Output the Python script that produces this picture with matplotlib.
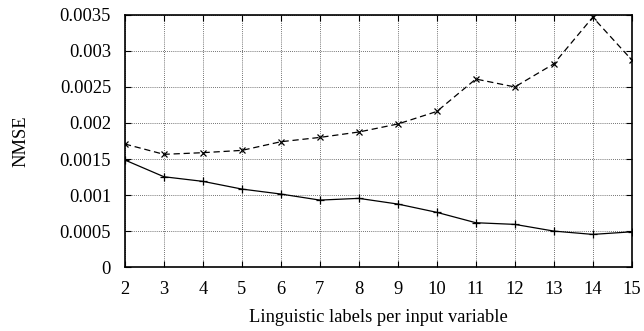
import matplotlib

matplotlib.use("Agg")

import matplotlib.pyplot as plt  # noqa: E402
from matplotlib.ticker import FuncFormatter  # noqa: E402

# values
labels_per_var = [2, 3, 4, 5, 6, 7, 8, 9, 10, 11, 12, 13, 14, 15]
nmse_solid = [0.001486, 0.001254, 0.00119, 0.001083, 0.001014, 0.00093, 0.000954,
              0.000875, 0.00076, 0.000616, 0.000593, 0.0005, 0.000454, 0.00049]
nmse_dashed = [0.001708, 0.001565, 0.001588, 0.00162, 0.00174, 0.0018, 0.001875,
               0.001986, 0.00216, 0.00261, 0.0025, 0.00282, 0.003468, 0.002875]
y_ticks = [0, 0.0005, 0.001, 0.0015, 0.002, 0.0025, 0.003, 0.0035]

plt.rcParams["font.family"] = ["Liberation Serif", "DejaVu Serif"]
plt.rcParams["font.size"] = 13.3

fig = plt.figure(figsize=(6.44, 3.31), dpi=100)
ax = fig.add_axes([0.194, 0.193, 0.787, 0.762])

ax.plot(labels_per_var, nmse_solid, color="black", linewidth=0.9,
        marker="+", markersize=6, markeredgewidth=0.9)
ax.plot(labels_per_var, nmse_dashed, color="black", linewidth=0.9,
        linestyle=(0, (5, 3)), marker="x", markersize=5, markeredgewidth=0.9)

ax.set_xlim(2, 15)
ax.set_ylim(0, 0.0035)
ax.set_xticks(labels_per_var)
ax.set_yticks(y_ticks)
ax.yaxis.set_major_formatter(FuncFormatter(lambda v, _: f"{v:g}" if v else "0"))

ax.grid(True, linestyle=(0, (1, 1.5)), color="#444444", linewidth=0.6)
ax.tick_params(direction="in", top=True, right=True, length=4, width=0.8)
ax.tick_params(axis="x", pad=10)
ax.tick_params(axis="y", pad=10)
for spine in ax.spines.values():
    spine.set_linewidth(1.2)

ax.set_xlabel("Linguistic labels per input variable", labelpad=8)
ax.set_ylabel("NMSE", labelpad=22)

fig.savefig("out.png", dpi=100)
